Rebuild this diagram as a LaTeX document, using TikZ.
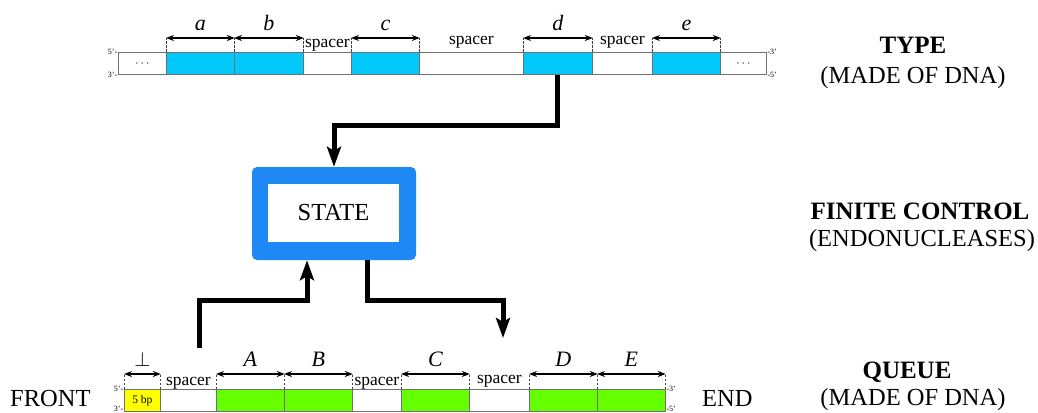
\documentclass[tikz,border=0pt]{standalone}
\usepackage{fontspec}
\setmainfont{Liberation Serif}
\usetikzlibrary{arrows.meta}

\definecolor{typecyan}{HTML}{00C8F8}
\definecolor{queuegreen}{HTML}{66FF00}
\definecolor{bpyellow}{HTML}{FFFF00}
\definecolor{stateblue}{HTML}{1E88F5}
\definecolor{strandgray}{HTML}{707070}

\tikzset{
  seg/.style={draw=strandgray, line width=0.8pt, inner sep=0pt,
    minimum height=22pt, anchor=north west, fill=white},
  typeseg/.style={seg, fill=typecyan},
  queueseg/.style={seg, fill=queuegreen},
  bpseg/.style={seg, fill=bpyellow, font=\fontsize{11.5}{12}\selectfont},
  endlabel/.style={inner sep=0.5pt, font=\fontsize{8}{8}\selectfont},
  guide/.style={dashed, dash pattern=on 2.5pt off 1.5pt, line width=0.7pt, black!75},
  dimarrow/.style={line width=1.5pt, {Stealth[length=8pt,width=6pt]}-{Stealth[length=8pt,width=6pt]}},
  seglabel/.style={anchor=base, inner sep=0pt, font=\fontsize{22}{24}\selectfont\itshape},
  spacerlabel/.style={anchor=base, inner sep=0pt, font=\fontsize{17.5}{18}\selectfont},
  bigconn/.style={line width=5pt, -{Stealth[length=20pt,width=14pt,inset=4pt]}},
  sidetitle/.style={anchor=base, inner sep=0pt, font=\fontsize{25}{28}\selectfont\bfseries},
  sidenote/.style={anchor=base, inner sep=0pt, font=\fontsize{24.5}{28}\selectfont},
  endword/.style={anchor=base west, inner sep=0pt, font=\fontsize{24.5}{28}\selectfont},
}

\begin{document}
\begin{tikzpicture}[x=1pt, y=-1pt]
\useasboundingbox (0,0) rectangle (1038,412);

% ---------- the type strand ----------
\node[seg, minimum width=48pt] (tl) at (118,52) {\fontsize{12}{12}\selectfont$\cdots$};
\node[typeseg, minimum width=68pt] (a) at (166,52) {};
\node[typeseg, minimum width=69pt] (b) at (234,52) {};
\node[seg, minimum width=48pt] (s1) at (303,52) {};
\node[typeseg, minimum width=68pt] (c) at (351,52) {};
\node[seg, minimum width=104pt] (s2) at (419,52) {};
\node[typeseg, minimum width=69pt] (d) at (523,52) {};
\node[seg, minimum width=60pt] (s3) at (592,52) {};
\node[typeseg, minimum width=68pt] (e) at (652,52) {};
\node[seg, minimum width=46pt] (tr) at (720,52) {\fontsize{12}{12}\selectfont$\cdots$};

\node[endlabel, anchor=east] (t5) at (tl.north west) {5'-};
\node[endlabel, anchor=east] (t3) at (tl.south west) {3'-};
\node[endlabel, anchor=west] (t3r) at (tr.north east) {-3'};
\node[endlabel, anchor=west] (t5r) at (tr.south east) {-5'};

\foreach \s/\l in {a/a, b/b, c/c, d/d, e/e} {
  \draw[guide] (\s.north west) -- ([yshift=14pt]\s.north west);
  \draw[guide] (\s.north east) -- ([yshift=14pt]\s.north east);
  \draw[dimarrow] ([yshift=14pt]\s.north west) -- ([yshift=14pt]\s.north east)
    node[seglabel, midway, yshift=7pt] (lab\s) {\l};
}
\node[spacerlabel] (sp1) at ([yshift=4pt]s1.north) {spacer};
\node[spacerlabel] (sp2) at ([yshift=7pt]s2.north) {spacer};
\node[spacerlabel] (sp3) at ([yshift=7pt]s3.north) {spacer};

% ---------- the finite control ----------
\node[fill=stateblue, rounded corners=5pt, minimum width=164pt, minimum height=93pt,
  inner sep=0pt] (stateframe) at (334,213.5) {};
\node[fill=white, minimum width=131pt, minimum height=58pt, inner sep=0pt,
  font=\fontsize{24.5}{28}\selectfont] (state) at (333.5,213) {STATE};

% ---------- the queue strand ----------
\node[bpseg, minimum width=36pt] (bp) at (124,389) {5 bp};
\node[seg, minimum width=56pt] (q1) at (160,389) {};
\node[queueseg, minimum width=68pt] (A) at (216,389) {};
\node[queueseg, minimum width=68pt] (B) at (284,389) {};
\node[seg, minimum width=49pt] (q2) at (352,389) {};
\node[queueseg, minimum width=68pt] (C) at (401,389) {};
\node[seg, minimum width=60pt] (q3) at (469,389) {};
\node[queueseg, minimum width=68pt] (D) at (529,389) {};
\node[queueseg, minimum width=68pt] (E) at (597,389) {};

\node[endlabel, anchor=east] (b5) at (bp.north west) {5'-};
\node[endlabel, anchor=south east] (b3) at (bp.south west) {3'-};
\node[endlabel, anchor=west] (b3r) at (E.north east) {-3'};
\node[endlabel, anchor=south west] (b5r) at (E.south east) {-5'};

\foreach \s/\l in {bp/$\perp$, A/A, B/B, C/C, D/D, E/E} {
  \draw[guide] (\s.north west) -- ([yshift=15pt]\s.north west);
  \draw[guide] (\s.north east) -- ([yshift=15pt]\s.north east);
  \draw[dimarrow] ([yshift=15pt]\s.north west) -- ([yshift=15pt]\s.north east)
    node[seglabel, midway, yshift=8pt] (lab\s) {\l};
}
\node[spacerlabel] (qp1) at ([yshift=4pt]q1.north) {spacer};
\node[spacerlabel] (qp2) at ([yshift=4pt]q2.north) {spacer};
\node[spacerlabel] (qp3) at ([yshift=6pt]q3.north) {spacer};

\node[endword] (front) at (10,406) {FRONT};
\node[endword] (endw) at (702,406) {END};

% ---------- connectors ----------
\coordinate (qread) at (199,348);
\coordinate (qwrite) at (503,338);
\draw[bigconn] (d.south) -- ++(0,51) -| (stateframe.north);
\draw[bigconn] (qread) -- ++(0,-48) -| ([xshift=-27pt]stateframe.south);
\draw[bigconn] ([xshift=33pt]stateframe.south) -- ++(0,40) -| (qwrite);

% ---------- side titles ----------
\node[sidetitle] (typet) at (913,53) {TYPE};
\node[sidenote] (typen) at (913,83) {(MADE OF DNA)};
\node[sidetitle] (fct) at (920,219) {FINITE CONTROL};
\node[sidenote] (fcn) at (922,246) {(ENDONUCLEASES)};
\node[sidetitle] (queuet) at (907,378) {QUEUE};
\node[sidenote] (queuen) at (913,405) {(MADE OF DNA)};
\end{tikzpicture}
\end{document}
